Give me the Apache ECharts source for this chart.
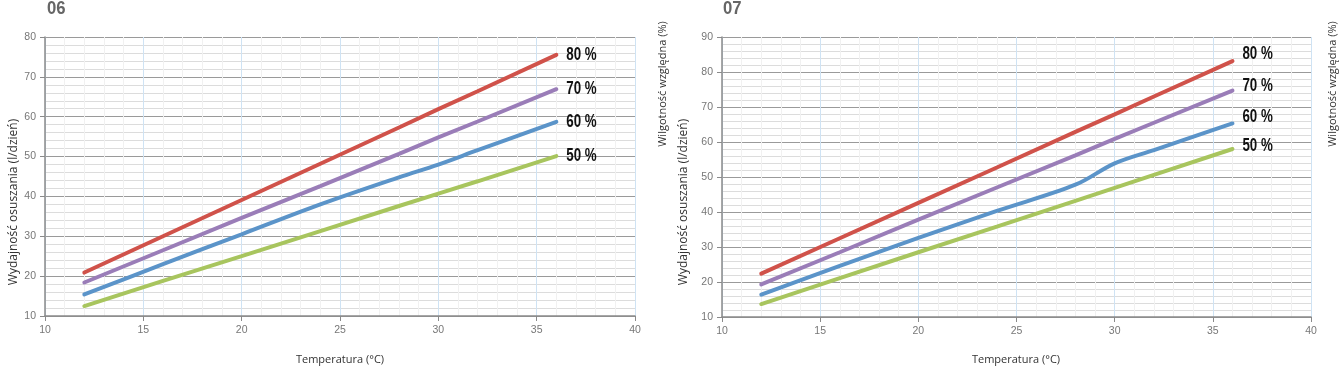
<!DOCTYPE html>
<html>
<head>
<meta charset="utf-8">
<script src="https://cdn.jsdelivr.net/npm/echarts@6/dist/echarts.min.js"></script>
<style>
html,body{margin:0;padding:0;background:#fff;}
#c{width:1340px;height:367px;}
</style>
</head>
<body>
<div id="c"></div>
<script>
// ---- data ----
const temps = [12, 16, 20, 24, 28, 30, 32, 36];
const seriesNames = ['80 %', '70 %', '60 %', '50 %'];
const chartTitles = ['06', '07'];
const xTitle = 'Temperatura (°C)';
const yTitle = 'Wydajność osuszania (l/dzień)';
const rhTitle = 'Wilgotność względna (%)';

// chart 06
const c1_rh80 = [20.9, 30.0, 39.1, 48.2, 57.3, 61.9, 66.4, 75.5];
const c1_rh70 = [18.4, 26.5, 34.6, 42.6, 50.7, 54.8, 58.8, 66.9];
const c1_rh60 = [15.4, 23.0, 30.5, 38.0, 44.8, 48.0, 51.6, 58.7];
const c1_rh50 = [12.5, 18.8, 25.0, 31.3, 37.6, 40.7, 43.8, 50.1];
// chart 07
const c2_rh80 = [22.4, 32.5, 42.6, 52.7, 62.9, 67.9, 73.0, 83.1];
const c2_rh70 = [19.3, 28.5, 37.8, 47.0, 56.2, 60.9, 65.5, 74.7];
const c2_rh60 = [16.4, 24.6, 32.6, 40.3, 47.8, 53.9, 57.7, 65.3];
const c2_rh50 = [13.7, 21.1, 28.5, 35.8, 43.2, 46.9, 50.6, 58.0];

const xTicks = {min: 10, max: 40, interval: 5};
const y1Ticks = {min: 10, max: 80, interval: 10};
const y2Ticks = {min: 10, max: 90, interval: 10};

// ---- styles ----
const colors = ['#d0524a', '#9a7db8', '#5b94c9', '#a8c55e'];
const tickFont = '"Liberation Sans", Arial, sans-serif';
const labelFont = '"Liberation Sans", Arial, sans-serif';
const sans = '"Open Sans", "Noto Sans", sans-serif';

function xAxis(gi) {
  return {
    type: 'value', gridIndex: gi, min: xTicks.min, max: xTicks.max, interval: xTicks.interval,
    axisLine: {show: true, lineStyle: {color: '#8a8a8a', width: 1.5}},
    axisTick: {show: true, length: 5, lineStyle: {color: '#8a8a8a'}},
    axisLabel: {color: '#777', fontFamily: tickFont, fontSize: 10.5, margin: 9},
    splitLine: {show: true, lineStyle: {color: '#cfe3f4', width: 1}},
    minorTick: {show: false, splitNumber: 5},
    minorSplitLine: {show: true, lineStyle: {color: '#f1f1f1', width: 1}}
  };
}
function yAxis(gi, t) {
  return {
    type: 'value', gridIndex: gi, min: t.min, max: t.max, interval: t.interval,
    axisLine: {show: true, lineStyle: {color: '#8a8a8a', width: 1.5}},
    axisTick: {show: true, length: 5, lineStyle: {color: '#8a8a8a'}},
    axisLabel: {color: '#777', fontFamily: tickFont, fontSize: 10.5, margin: 9},
    splitLine: {show: true, lineStyle: {color: '#9a9a9a', width: 1}},
    minorTick: {show: false, splitNumber: 5},
    minorSplitLine: {show: true, lineStyle: {color: '#dcdcdc', width: 1}}
  };
}
function mkSeries(gi, name, vals, color, smooth) {
  return {
    type: 'line', name: name, xAxisIndex: gi, yAxisIndex: gi,
    data: temps.map((t, i) => [t, vals[i]]),
    showSymbol: false, smooth: smooth ? 0.35 : false,
    lineStyle: {color: color, width: 4, cap: 'round'},
    itemStyle: {color: color},
    silent: true
  };
}

const chartSeries = [
  {gi: 0, vals: [c1_rh80, c1_rh70, c1_rh60, c1_rh50], dy: [0, 0, 0, 0]},
  {gi: 1, vals: [c2_rh80, c2_rh70, c2_rh60, c2_rh50], dy: [-7, -5, -6, -3]}
];

const chart = echarts.init(document.getElementById('c'), null, {renderer: 'canvas'});
const series = [];
chartSeries.forEach(cs => cs.vals.forEach((v, k) => series.push(mkSeries(cs.gi, seriesNames[k], v, colors[k], k === 2))));

chart.setOption({
  animation: false,
  backgroundColor: '#fff',
  grid: [
    {left: 45, right: 705, top: 37, bottom: 51},
    {left: 722, right: 29, top: 37, bottom: 50}
  ],
  xAxis: [xAxis(0), xAxis(1)],
  yAxis: [yAxis(0, y1Ticks), yAxis(1, y2Ticks)],
  series: series
});

// condensed bold series labels placed at the end of each line (via the chart's own scales)
const graphics = [
  {type: 'text', x: 47, y: 9, scaleX: 0.88, style: {text: chartTitles[0], fill: '#666', font: 'bold 19px ' + labelFont, verticalAlign: 'middle'}},
  {type: 'text', x: 723, y: 9, scaleX: 0.88, style: {text: chartTitles[1], fill: '#666', font: 'bold 19px ' + labelFont, verticalAlign: 'middle'}},
  {type: 'text', x: 340, y: 360, style: {text: xTitle, fill: '#333', font: '11px ' + sans, align: 'center', verticalAlign: 'middle'}},
  {type: 'text', x: 1016, y: 360, style: {text: xTitle, fill: '#333', font: '11px ' + sans, align: 'center', verticalAlign: 'middle'}},
  {type: 'text', x: 14, y: 202, rotation: Math.PI / 2, style: {text: yTitle, fill: '#333', font: '12px ' + sans, align: 'center', verticalAlign: 'middle'}},
  {type: 'text', x: 684, y: 202, rotation: Math.PI / 2, style: {text: yTitle, fill: '#333', font: '12px ' + sans, align: 'center', verticalAlign: 'middle'}},
  {type: 'text', x: 663, y: 84, rotation: Math.PI / 2, style: {text: rhTitle, fill: '#333', font: '11px ' + sans, align: 'center', verticalAlign: 'middle'}},
  {type: 'text', x: 1333, y: 84, rotation: Math.PI / 2, style: {text: rhTitle, fill: '#333', font: '11px ' + sans, align: 'center', verticalAlign: 'middle'}}
];
const last = temps.length - 1;
chartSeries.forEach(cs => cs.vals.forEach((v, k) => {
  const p = chart.convertToPixel({gridIndex: cs.gi}, [temps[last], v[last]]);
  graphics.push({
    type: 'text', x: p[0] + 10, y: p[1] + cs.dy[k], scaleX: 0.74,
    style: {text: seriesNames[k], fill: '#111', font: 'bold 18px ' + labelFont, verticalAlign: 'middle'}
  });
}));
chart.setOption({graphic: graphics});
</script>
</body>
</html>
